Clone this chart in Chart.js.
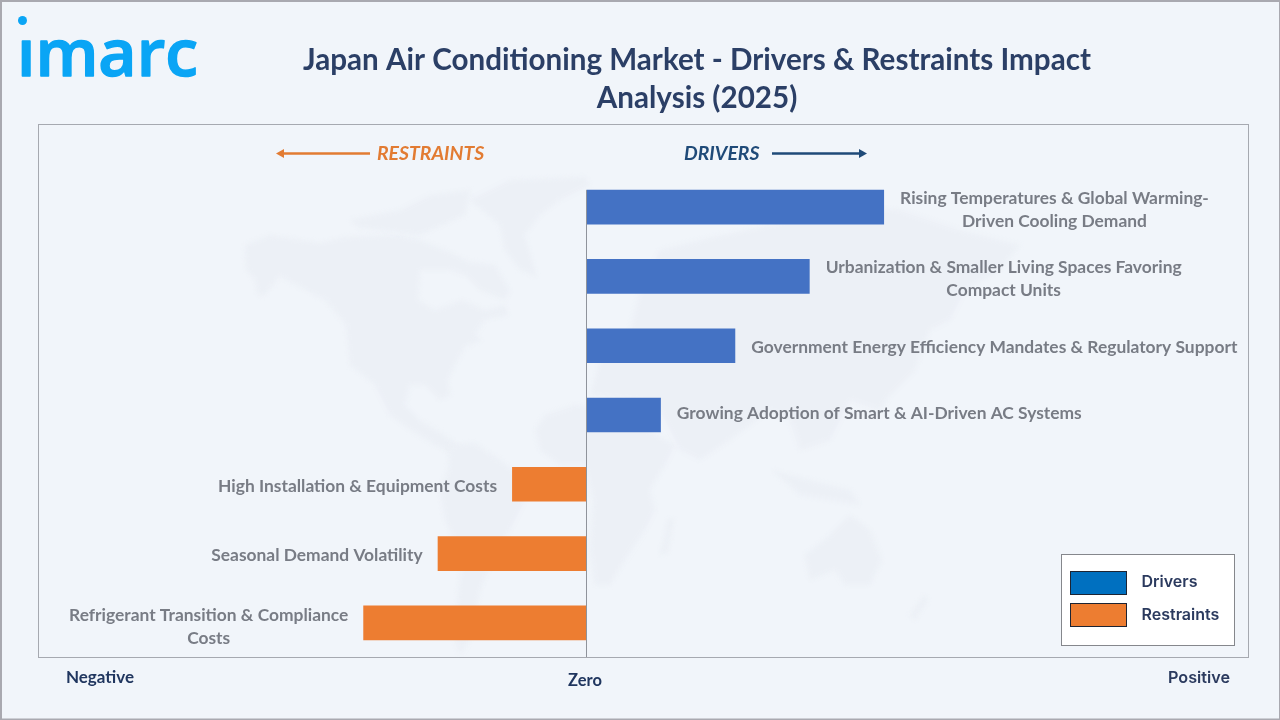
<!DOCTYPE html>
<html><head><meta charset="utf-8">
<style>html,body{margin:0;padding:0;background:#f1f5fa}canvas{display:block}</style>
<script src="https://cdn.jsdelivr.net/npm/chart.js@4"></script>
</head><body><canvas id="c" width="1280" height="720"></canvas>
<script>
const categories = [
  ["Rising Temperatures & Global Warming-","Driven Cooling Demand"],
  ["Urbanization & Smaller Living Spaces Favoring","Compact Units"],
  ["Government Energy Efficiency Mandates & Regulatory Support"],
  ["Growing Adoption of Smart & AI-Driven AC Systems"],
  ["High Installation & Equipment Costs"],
  ["Seasonal Demand Volatility"],
  ["Refrigerant Transition & Compliance","Costs"]
];
const driverValues = [4,3,2,1,null,null,null];
const restraintValues = [null,null,null,null,-1,-2,-3];
const seriesNames = ["Drivers","Restraints"];
const titleLines = ["Japan Air Conditioning Market - Drivers & Restraints Impact","Analysis (2025)"];
const axisWords = ["Negative","Zero","Positive"];

const NAVY="#2b3f66", GREY="#787c85";
const map=[
 [[245,245],[270,235],[320,243],[345,237],[400,235],[420,240],[445,250],[470,262],[495,265],[510,290],[505,300],[480,290],[465,275],[450,270],[420,270],[418,300],[435,310],[462,300],[485,310],[505,305],[508,315],[485,320],[475,335],[482,340],[465,347],[455,365],[448,380],[450,395],[440,400],[425,385],[410,385],[405,405],[420,420],[440,432],[465,450],[480,460],[465,462],[435,445],[410,430],[390,415],[375,385],[350,365],[346,325],[325,300],[290,282],[280,276],[265,295],[258,296],[255,280],[246,270]],
 [[470,200],[510,180],[585,177],[590,185],[560,200],[540,215],[525,235],[537,277],[520,270],[505,250],[500,225]],
 [[350,220],[400,210],[430,195],[470,190],[465,215],[420,235],[360,228]],
 [[450,445],[475,443],[500,460],[525,480],[525,500],[510,530],[495,555],[480,590],[470,640],[460,655],[455,640],[458,590],[462,560],[445,520],[440,490],[448,470]],
 [[545,415],[575,405],[630,410],[650,430],[675,445],[665,465],[650,490],[655,510],[645,530],[625,560],[610,585],[595,585],[590,550],[593,500],[585,465],[560,465],[540,450],[535,430]],
 [[590,395],[600,360],[630,330],[640,290],[660,250],[700,240],[770,225],[830,205],[900,210],[960,230],[1020,245],[1000,270],[965,290],[950,320],[930,330],[915,370],[890,395],[880,410],[850,400],[830,440],[800,450],[790,420],[770,410],[730,440],[700,460],[680,450],[660,410],[640,400]],
 [[805,555],[830,535],[850,515],[870,530],[882,560],[870,585],[845,585],[835,570],[810,580]],
 [[772,470],[800,495],[860,505],[850,490],[810,480]],
 [[668,520],[674,518],[668,552],[660,555]],
 [[924,595],[928,600],[915,620],[910,615]]
];
const labelNudge=[2.5,2.5,2,-2,2,2,4];

function arrow(ctx,x1,x2,y,col){
  const d=x2>x1?1:-1;
  ctx.strokeStyle=col;ctx.lineWidth=2.5;ctx.beginPath();ctx.moveTo(x1,y);ctx.lineTo(x2-d*6,y);ctx.stroke();
  ctx.fillStyle=col;ctx.beginPath();ctx.moveTo(x2,y);ctx.lineTo(x2-d*8,y-4.5);ctx.lineTo(x2-d*8,y+4.5);ctx.closePath();ctx.fill();
}
function text(ctx,s,x,y,font,col,align){
  ctx.font=font;ctx.fillStyle=col;ctx.textAlign=align||"center";ctx.textBaseline="middle";ctx.fillText(s,x,y);
}
const backdrop={id:"backdrop",beforeDraw(ch){
  const c=ch.ctx;c.save();
  c.fillStyle="#f1f5fa";c.fillRect(0,0,1280,720);
  c.filter="blur(2px)";c.fillStyle="#ecf0f6";
  map.forEach(p=>{c.beginPath();p.forEach((q,i)=>i?c.lineTo(q[0],q[1]):c.moveTo(q[0],q[1]));c.closePath();c.fill();});
  c.filter="none";
  c.fillStyle="#a9a9b0";c.fillRect(0,0,1280,2);c.fillRect(0,0,2,720);c.fillRect(1279,0,1,720);c.fillRect(0,718.5,1280,1.5);
  c.strokeStyle="#a6a9b0";c.lineWidth=1;c.strokeRect(38.5,124.5,1210,533);
  c.restore();
}};
const overlay={id:"overlay",afterDatasetsDraw(ch){
  const c=ch.ctx,x=ch.scales.x,y=ch.scales.y;c.save();
  const zero=Math.round(x.getPixelForValue(0))+0.5;
  c.strokeStyle="#8f939b";c.lineWidth=1;c.beginPath();c.moveTo(zero,y.getPixelForValue(0)-17);c.lineTo(zero,657);c.stroke();
  // bar labels
  const lf="700 17.4px Lato";c.font=lf;
  categories.forEach((lines,i)=>{
    const v=driverValues[i]!==null?driverValues[i]:restraintValues[i];
    const w=Math.max(...lines.map(l=>c.measureText(l).width));
    const px=x.getPixelForValue(v),cy=y.getPixelForValue(i)+labelNudge[i];
    const cx=v>0?px+16+w/2:px-15-w/2;
    lines.forEach((l,k)=>text(c,l,cx,cy+(k-(lines.length-1)/2)*23,lf,GREY));
  });
  // title, logo
  text(c,titleLines[0],697,60,"700 29.6px Lato",NAVY);
  text(c,titleLines[1],697,98,"700 29.6px Lato",NAVY);
  c.save();
  c.beginPath();c.rect(0,37,260,60);c.clip();
  c.font="600 66px 'Open Sans'";c.fillStyle="#0aa5f5";c.strokeStyle="#0aa5f5";c.lineWidth=1.5;c.lineJoin="round";
  c.textAlign="left";c.textBaseline="alphabetic";
  c.fillText("imarc",17,76);c.strokeText("imarc",17,76);
  c.restore();
  c.beginPath();c.fillStyle="#0aa5f5";c.arc(22.5,20.5,4.5,0,7);c.fill();
  // direction captions
  text(c,"RESTRAINTS",377,154,"italic 700 19.4px Lato","#e27b32","left");
  arrow(c,370,276,153.5,"#e27b32");
  text(c,"DRIVERS",684,154,"italic 700 19.4px Lato","#1f4a78","left");
  arrow(c,772,867,153.5,"#1f4a78");
  // axis words
  text(c,axisWords[0],100,678,"700 17px Lato","#20365f");
  text(c,axisWords[1],585,681,"700 16.5px Lato","#20365f");
  text(c,axisWords[2],1199,678,"600 16.2px Inter","#2b3a5e");
  // legend
  c.fillStyle="#fff";c.fillRect(1061.5,554.5,173,91);
  c.strokeStyle="#85878c";c.lineWidth=1;c.strokeRect(1061.5,554.5,173,91);
  [["#0070c0",571.5,582],["#ed7d31",603.5,615]].forEach((r,i)=>{
    c.fillStyle=r[0];c.fillRect(1070.5,r[1],56,23);
    c.strokeStyle="#1d2433";c.strokeRect(1070.5,r[1],56,23);
    text(c,seriesNames[i],1141.5,r[2],"600 16px Inter","#2b3a5e","left");
  });
  c.restore();
}};
new Chart(document.getElementById("c"),{
  type:"bar",
  data:{labels:categories,datasets:[
    {label:seriesNames[0],data:driverValues,backgroundColor:"#4472c4"},
    {label:seriesNames[1],data:restraintValues,backgroundColor:"#ed7d31"}
  ]},
  options:{
    indexAxis:"y",responsive:false,animation:false,devicePixelRatio:1,
    layout:{padding:{left:38,right:31,top:172.5,bottom:62.5}},
    datasets:{bar:{barPercentage:0.5,categoryPercentage:1}},
    scales:{
      x:{stacked:true,min:-7.372,max:8.905,display:false},
      y:{stacked:true,display:false}
    },
    plugins:{legend:{display:false},tooltip:{enabled:false}}
  },
  plugins:[backdrop,overlay]
});
</script></body></html>
